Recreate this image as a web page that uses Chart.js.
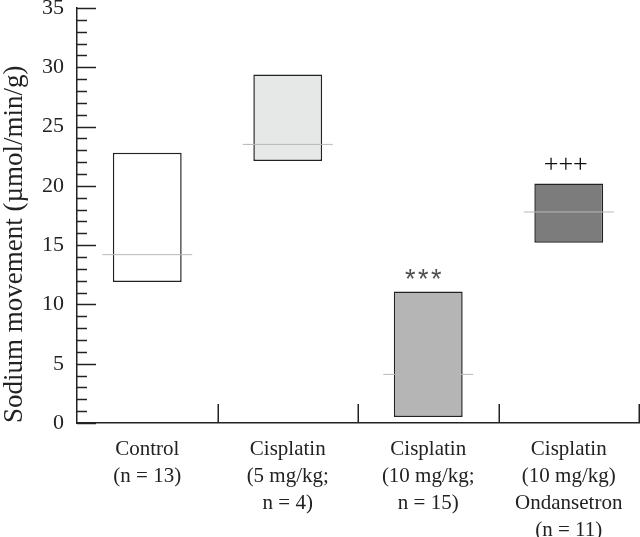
<!DOCTYPE html>
<html>
<head>
<meta charset="utf-8">
<script src="https://cdn.jsdelivr.net/npm/chart.js@4.4.0/dist/chart.umd.min.js"></script>
<style>
  html, body { margin: 0; padding: 0; background: #ffffff; }
  #wrap { width: 640px; height: 537px; }
</style>
</head>
<body>
<div id="wrap"><canvas id="c" width="640" height="537"></canvas></div>
<script>
// ---- data ----
const categories = [
  ['Control', '(n = 13)'],
  ['Cisplatin', '(5 mg/kg;', 'n = 4)'],
  ['Cisplatin', '(10 mg/kg;', 'n = 15)'],
  ['Cisplatin', '(10 mg/kg)', 'Ondansetron', '(n = 11)']
];
const lowValues = [11.9, 22.1, 0.5, 15.2];
const highValues = [22.8, 29.4, 11.1, 20.2];
const medianValues = [14.2, 23.5, 4.1, 17.8];
const significance = ['', '', '***', '+++'];
const yMin = 0;
const yMax = 35;
const yStep = 5;
const yMinorStep = 1;
const yTitle = 'Sodium movement (\u00b5mol/min/g)';

const fillColors = ['#ffffff', '#e6e7e7', '#b4b5b4', '#7b7c7b'];
const inkColor = '#222222';
const serif = "'Liberation Serif', 'DejaVu Serif', serif";
const sans = "'Liberation Sans', 'DejaVu Sans', sans-serif";

const ranges = lowValues.map((lo, i) => [lo, highValues[i]]);

const axisTicksPlugin = {
  id: 'axisTicks',
  afterDraw(chart) {
    const ctx = chart.ctx;
    const y = chart.scales.y;
    const x = chart.scales.x;
    const area = chart.chartArea;
    ctx.save();
    ctx.strokeStyle = inkColor;
    ctx.lineWidth = 1.5;
    // y ticks pointing inward (right)
    for (let v = yMin; v <= yMax + 1e-9; v += yMinorStep) {
      const py = Math.round(y.getPixelForValue(v)) + 0.5;
      const major = Math.abs(v / yStep - Math.round(v / yStep)) < 1e-9;
      const len = major ? 19 : 10;
      ctx.beginPath();
      ctx.moveTo(area.left, py);
      ctx.lineTo(area.left + len, py);
      ctx.stroke();
    }
    // x category boundary ticks pointing up
    const n = categories.length;
    for (let i = 1; i <= n; i++) {
      let px = x.left + (x.right - x.left) * i / n;
      px = Math.min(Math.round(px), chart.width - 1) + 0.25;
      ctx.beginPath();
      ctx.moveTo(px, area.bottom);
      ctx.lineTo(px, area.bottom - 19);
      ctx.stroke();
    }
    ctx.restore();
  }
};

const annotationPlugin = {
  id: 'significance',
  afterDatasetsDraw(chart) {
    const ctx = chart.ctx;
    const x = chart.scales.x;
    const y = chart.scales.y;
    ctx.save();
    ctx.textAlign = 'center';
    ctx.textBaseline = 'alphabetic';
    significance.forEach((s, i) => {
      if (!s) return;
      const px = x.getPixelForValue(i);
      const top = y.getPixelForValue(highValues[i]);
      if (s.startsWith('*')) {
        ctx.fillStyle = '#505050';
        ctx.font = '27px ' + sans;
        const chars = s.split('');
        chars.forEach((ch, k) => {
          ctx.fillText(ch, px - 5 + (k - (chars.length - 1) / 2) * 13, top - 3);
        });
      } else {
        ctx.fillStyle = '#111111';
        ctx.font = '26px ' + serif;
        ctx.fillText(s, px - 3, top - 12);
      }
    });
    ctx.restore();
  }
};

new Chart(document.getElementById('c'), {
  data: {
    labels: categories,
    datasets: [
      {
        type: 'line',
        data: medianValues,
        showLine: false,
        pointStyle: 'line',
        pointRadius: 45,
        pointHoverRadius: 45,
        borderColor: '#b8b8b8',
        pointBorderColor: '#b8b8b8',
        pointBorderWidth: 1,
        clip: false,
        order: 0
      },
      {
        type: 'bar',
        data: ranges,
        backgroundColor: fillColors,
        borderColor: inkColor,
        borderWidth: 1.5,
        borderSkipped: false,
        categoryPercentage: 1,
        barPercentage: 0.49,
        order: 1
      }
    ]
  },
  options: {
    responsive: false,
    animation: false,
    devicePixelRatio: 1,
    layout: { autoPadding: false, padding: { top: 0, right: 1, left: 0, bottom: 0 } },
    plugins: {
      legend: { display: false },
      tooltip: { enabled: false }
    },
    scales: {
      x: {
        type: 'category',
        offset: true,
        grid: { display: false, drawTicks: false },
        border: { display: true, color: inkColor, width: 1.5 },
        ticks: {
          color: inkColor,
          font: { family: serif, size: 21, lineHeight: 1.29 },
          padding: 13,
          maxRotation: 0,
          minRotation: 0,
          autoSkip: false
        },
        afterFit(scale) { scale.height = 114; }
      },
      y: {
        min: yMin,
        max: yMax,
        grid: { display: false, drawTicks: false },
        border: { display: true, color: inkColor, width: 1.5 },
        ticks: {
          stepSize: yStep,
          color: inkColor,
          font: { family: serif, size: 22, lineHeight: 0.55 },
          padding: 2,
          callback: (v) => v + '\u2002'
        },
        title: {
          display: true,
          text: yTitle,
          align: 'start',
          color: inkColor,
          font: { family: serif, size: 27, lineHeight: 1.1 },
          padding: { top: 0, bottom: 0 }
        },
        afterFit(scale) { scale.width = 77; }
      }
    }
  },
  plugins: [axisTicksPlugin, annotationPlugin]
});
</script>
</body>
</html>
